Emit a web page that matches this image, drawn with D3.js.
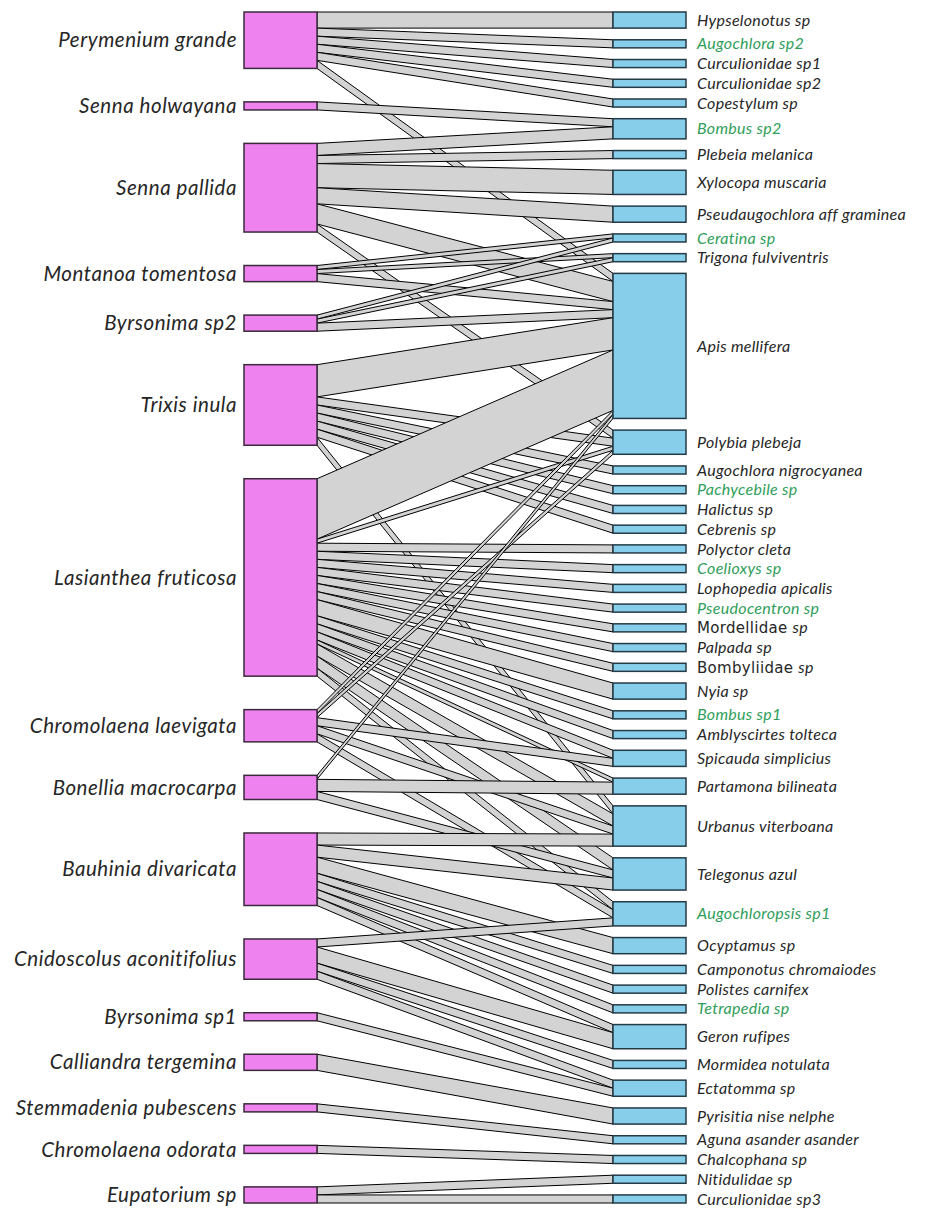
<!DOCTYPE html>
<html>
<head>
<meta charset="utf-8">
<script src="https://cdn.jsdelivr.net/npm/d3@7"></script>
<style>
  body { margin: 0; background: #ffffff; }
  svg { display: block; }
</style>
</head>
<body>
<svg id="web" width="937" height="1209"></svg>
<script>
// Plants (lower level, drawn on the left), top to bottom
const plants = [
  "Perymenium grande", "Senna holwayana", "Senna pallida", "Montanoa tomentosa",
  "Byrsonima sp2", "Trixis inula", "Lasianthea fruticosa", "Chromolaena laevigata",
  "Bonellia macrocarpa", "Bauhinia divaricata", "Cnidoscolus aconitifolius",
  "Byrsonima sp1", "Calliandra tergemina", "Stemmadenia pubescens",
  "Chromolaena odorata", "Eupatorium sp"
];

// Flower visitors (higher level, drawn on the right), top to bottom
const pollinators = [
  "Hypselonotus sp", "Augochlora sp2", "Curculionidae sp1", "Curculionidae sp2",
  "Copestylum sp", "Bombus sp2", "Plebeia melanica", "Xylocopa muscaria",
  "Pseudaugochlora aff graminea", "Ceratina sp", "Trigona fulviventris",
  "Apis mellifera", "Polybia plebeja", "Augochlora nigrocyanea", "Pachycebile sp",
  "Halictus sp", "Cebrenis sp", "Polyctor cleta", "Coelioxys sp",
  "Lophopedia apicalis", "Pseudocentron sp", "Mordellidae sp", "Palpada sp",
  "Bombyliidae sp", "Nyia sp", "Bombus sp1", "Amblyscirtes tolteca",
  "Spicauda simplicius", "Partamona bilineata", "Urbanus viterboana",
  "Telegonus azul", "Augochloropsis sp1", "Ocyptamus sp", "Camponotus chromaiodes",
  "Polistes carnifex", "Tetrapedia sp", "Geron rufipes", "Mormidea notulata",
  "Ectatomma sp", "Pyrisitia nise nelphe", "Aguna asander asander",
  "Chalcophana sp", "Nitidulidae sp", "Curculionidae sp3"
];

// Visitors whose names are highlighted in green
const greenPollinators = [
  "Augochlora sp2", "Bombus sp2", "Ceratina sp", "Pachycebile sp", "Coelioxys sp",
  "Pseudocentron sp", "Bombus sp1", "Augochloropsis sp1", "Tetrapedia sp"
];

// Family-level names set upright (only the "sp" stays italic)
const uprightNames = ["Mordellidae sp", "Bombyliidae sp"];

// Interaction counts: [plant, visitor, visits]
const interactions = [
  ["Perymenium grande", "Hypselonotus sp", 4],
  ["Perymenium grande", "Augochlora sp2", 2],
  ["Perymenium grande", "Curculionidae sp1", 2],
  ["Perymenium grande", "Curculionidae sp2", 2],
  ["Perymenium grande", "Copestylum sp", 2],
  ["Perymenium grande", "Apis mellifera", 2],
  ["Senna holwayana", "Bombus sp2", 2],
  ["Senna pallida", "Bombus sp2", 3],
  ["Senna pallida", "Plebeia melanica", 2],
  ["Senna pallida", "Xylocopa muscaria", 6],
  ["Senna pallida", "Pseudaugochlora aff graminea", 4],
  ["Senna pallida", "Apis mellifera", 5],
  ["Senna pallida", "Polybia plebeja", 2],
  ["Montanoa tomentosa", "Ceratina sp", 1],
  ["Montanoa tomentosa", "Trigona fulviventris", 1],
  ["Montanoa tomentosa", "Apis mellifera", 2],
  ["Byrsonima sp2", "Ceratina sp", 1],
  ["Byrsonima sp2", "Trigona fulviventris", 1],
  ["Byrsonima sp2", "Apis mellifera", 2],
  ["Trixis inula", "Apis mellifera", 8],
  ["Trixis inula", "Polybia plebeja", 2],
  ["Trixis inula", "Augochlora nigrocyanea", 2],
  ["Trixis inula", "Pachycebile sp", 2],
  ["Trixis inula", "Halictus sp", 2],
  ["Trixis inula", "Cebrenis sp", 2],
  ["Trixis inula", "Urbanus viterboana", 2],
  ["Lasianthea fruticosa", "Apis mellifera", 15],
  ["Lasianthea fruticosa", "Polybia plebeja", 1],
  ["Lasianthea fruticosa", "Polyctor cleta", 2],
  ["Lasianthea fruticosa", "Coelioxys sp", 2],
  ["Lasianthea fruticosa", "Lophopedia apicalis", 2],
  ["Lasianthea fruticosa", "Pseudocentron sp", 2],
  ["Lasianthea fruticosa", "Mordellidae sp", 2],
  ["Lasianthea fruticosa", "Palpada sp", 2],
  ["Lasianthea fruticosa", "Bombyliidae sp", 2],
  ["Lasianthea fruticosa", "Nyia sp", 4],
  ["Lasianthea fruticosa", "Bombus sp1", 2],
  ["Lasianthea fruticosa", "Amblyscirtes tolteca", 2],
  ["Lasianthea fruticosa", "Spicauda simplicius", 2],
  ["Lasianthea fruticosa", "Partamona bilineata", 1],
  ["Lasianthea fruticosa", "Urbanus viterboana", 3],
  ["Lasianthea fruticosa", "Telegonus azul", 3],
  ["Lasianthea fruticosa", "Augochloropsis sp1", 2],
  ["Chromolaena laevigata", "Apis mellifera", 1],
  ["Chromolaena laevigata", "Polybia plebeja", 1],
  ["Chromolaena laevigata", "Spicauda simplicius", 2],
  ["Chromolaena laevigata", "Urbanus viterboana", 2],
  ["Chromolaena laevigata", "Augochloropsis sp1", 2],
  ["Bonellia macrocarpa", "Apis mellifera", 1],
  ["Bonellia macrocarpa", "Partamona bilineata", 3],
  ["Bonellia macrocarpa", "Telegonus azul", 2],
  ["Bauhinia divaricata", "Urbanus viterboana", 3],
  ["Bauhinia divaricata", "Telegonus azul", 3],
  ["Bauhinia divaricata", "Ocyptamus sp", 4],
  ["Bauhinia divaricata", "Camponotus chromaiodes", 2],
  ["Bauhinia divaricata", "Polistes carnifex", 2],
  ["Bauhinia divaricata", "Tetrapedia sp", 2],
  ["Bauhinia divaricata", "Geron rufipes", 2],
  ["Cnidoscolus aconitifolius", "Augochloropsis sp1", 2],
  ["Cnidoscolus aconitifolius", "Geron rufipes", 4],
  ["Cnidoscolus aconitifolius", "Mormidea notulata", 2],
  ["Cnidoscolus aconitifolius", "Ectatomma sp", 2],
  ["Byrsonima sp1", "Ectatomma sp", 2],
  ["Calliandra tergemina", "Pyrisitia nise nelphe", 4],
  ["Stemmadenia pubescens", "Aguna asander asander", 2],
  ["Chromolaena odorata", "Chalcophana sp", 2],
  ["Eupatorium sp", "Nitidulidae sp", 2],
  ["Eupatorium sp", "Curculionidae sp3", 2]
];

// ---- layout ----
const svg = d3.select("#web");
const yTop = 12, yBottom = 1203;         // vertical extent of both levels
const boxShare = 0.5785;                 // part of the extent taken by boxes
const xLow = [244, 317], xHigh = [613, 686];

const total = d3.sum(interactions, d => d[2]);
const span = yBottom - yTop;
const unit = d3.scaleLinear().domain([0, total]).range([0, span * boxShare]);

function stack(names, key) {
  const sums = d3.rollup(interactions, v => d3.sum(v, d => d[2]), d => d[key]);
  const gap = (span - unit(total)) / (names.length - 1);
  let y = yTop;
  return new Map(names.map(n => {
    const h = unit(sums.get(n) || 0);
    const box = { name: n, y0: y, y1: y + h };
    y += h + gap;
    return [n, box];
  }));
}
const lowBoxes = stack(plants, 0);
const highBoxes = stack(pollinators, 1);

// link end offsets: plant side ordered by visitor, visitor side ordered by plant
const pIdx = new Map(plants.map((n, i) => [n, i]));
const aIdx = new Map(pollinators.map((n, i) => [n, i]));
const links = interactions.map(d => ({ plant: d[0], animal: d[1], n: d[2] }));

d3.groups(links, l => l.plant).forEach(([p, ls]) => {
  let y = lowBoxes.get(p).y0;
  ls.sort((a, b) => aIdx.get(a.animal) - aIdx.get(b.animal)).forEach(l => {
    l.ly0 = y; y += unit(l.n); l.ly1 = y;
  });
});
d3.groups(links, l => l.animal).forEach(([a, ls]) => {
  let y = highBoxes.get(a).y0;
  ls.sort((x, z) => pIdx.get(x.plant) - pIdx.get(z.plant)).forEach(l => {
    l.hy0 = y; y += unit(l.n); l.hy1 = y;
  });
});

// ---- links ----
const linkPath = l => d3.line()([
  [xLow[1], l.ly0], [xHigh[0], l.hy0], [xHigh[0], l.hy1], [xLow[1], l.ly1]
]) + "Z";

svg.append("g")
  .selectAll("path")
  .data(links)
  .join("path")
  .attr("d", linkPath)
  .attr("fill", "#d3d3d3")
  .attr("stroke", "#000")
  .attr("stroke-width", 1)
  .attr("stroke-linejoin", "miter");

// ---- boxes ----
svg.append("g")
  .selectAll("rect")
  .data([...lowBoxes.values()])
  .join("rect")
  .attr("x", xLow[0]).attr("width", xLow[1] - xLow[0])
  .attr("y", d => d.y0).attr("height", d => d.y1 - d.y0)
  .attr("fill", "#ee82ee")
  .attr("stroke", "#3b2a3b").attr("stroke-width", 1.5);

svg.append("g")
  .selectAll("rect")
  .data([...highBoxes.values()])
  .join("rect")
  .attr("x", xHigh[0]).attr("width", xHigh[1] - xHigh[0])
  .attr("y", d => d.y0).attr("height", d => d.y1 - d.y0)
  .attr("fill", "#87ceeb")
  .attr("stroke", "#243a46").attr("stroke-width", 1.5);

// ---- labels ----
const font = "Lato, 'Open Sans', sans-serif";

svg.append("g")
  .selectAll("text")
  .data([...lowBoxes.values()])
  .join("text")
  .attr("x", xLow[0] - 7)
  .attr("y", d => (d.y0 + d.y1) / 2)
  .attr("dy", "0.35em")
  .attr("text-anchor", "end")
  .attr("font-family", font)
  .attr("font-style", "italic")
  .attr("font-size", 20.5)
  .attr("letter-spacing", 0.55)
  .attr("fill", "#262626")
  .text(d => d.name);

const hl = svg.append("g")
  .selectAll("text")
  .data([...highBoxes.values()])
  .join("text")
  .attr("x", xHigh[1] + 11)
  .attr("y", d => (d.y0 + d.y1) / 2)
  .attr("dy", "0.35em")
  .attr("font-family", font)
  .attr("font-size", 16)
  .attr("letter-spacing", 0.3)
  .attr("fill", d => greenPollinators.includes(d.name) ? "#2f9e5a" : "#262626");

hl.each(function(d) {
  const t = d3.select(this);
  if (uprightNames.includes(d.name)) {
    const [fam, sp] = d.name.split(" ");
    t.append("tspan").attr("font-family", "'DejaVu Sans', sans-serif")
      .attr("font-size", 15).text(fam + " ");
    t.append("tspan").attr("font-style", "italic").text(sp);
  } else {
    t.attr("font-style", "italic").text(d.name);
  }
});
</script>
</body>
</html>
